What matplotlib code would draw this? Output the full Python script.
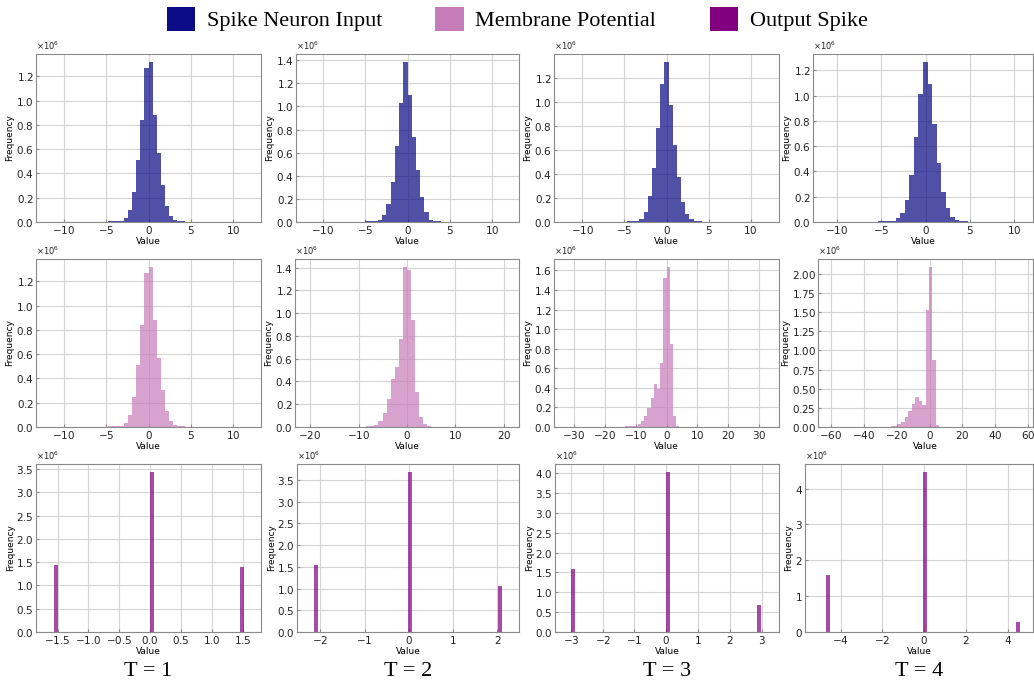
import numpy as np
import matplotlib
matplotlib.use("Agg")
import matplotlib.pyplot as plt
from matplotlib.patches import Patch
from matplotlib.ticker import MaxNLocator

plt.rcParams['axes.formatter.use_mathtext'] = True

# ---- data (frequencies in units of 10^6) ----
steps = ["T = 1", "T = 2", "T = 3", "T = 4"]
series_names = ["Spike Neuron Input", "Membrane Potential", "Output Spike"]

# input histograms: evenly spaced bins over (lo, hi)
input_ranges = [(-12.1, 12.1), (-12.0, 12.0), (-12.15, 12.15), (-11.57, 10.97)]
input_counts = [
    [0.004, 0.003, 0.003, 0.003, 0.003, 0.002, 0.002, 0.002, 0.002, 0.003,
     0.003, 0.003, 0.003, 0.004, 0.004, 0.005, 0.006, 0.008, 0.011, 0.035,
     0.098, 0.248, 0.513, 0.843, 1.265, 1.317, 0.884, 0.567, 0.303, 0.131,
     0.049, 0.015, 0.008, 0.005, 0.004, 0.003, 0.003, 0.002, 0.002, 0.002,
     0.002, 0.002, 0.002, 0.002, 0.002, 0.002, 0.003, 0.004, 0.004, 0.003],
    [0.003, 0.003, 0.002, 0.002, 0.002, 0.002, 0.002, 0.002, 0.002, 0.002,
     0.003, 0.003, 0.003, 0.004, 0.005, 0.006, 0.007, 0.015, 0.06, 0.155,
     0.35, 0.66, 1.03, 1.385, 1.10, 0.74, 0.45, 0.22, 0.083, 0.017,
     0.006, 0.005, 0.004, 0.003, 0.003, 0.002, 0.002, 0.002, 0.002, 0.002,
     0.002, 0.002, 0.002, 0.002, 0.002, 0.003, 0.004, 0.003],
    [0.003, 0.002, 0.002, 0.002, 0.002, 0.002, 0.002, 0.002, 0.002, 0.002,
     0.003, 0.003, 0.003, 0.004, 0.004, 0.005, 0.006, 0.01, 0.028, 0.083,
     0.22, 0.45, 0.78, 1.15, 1.33, 0.97, 0.64, 0.37, 0.165, 0.066,
     0.022, 0.007, 0.005, 0.004, 0.003, 0.003, 0.002, 0.002, 0.002, 0.002,
     0.002, 0.002, 0.002, 0.002, 0.002, 0.002, 0.003, 0.004, 0.003],
    [0.002, 0.002, 0.002, 0.002, 0.003, 0.003, 0.003, 0.003, 0.003, 0.003,
     0.003, 0.003, 0.004, 0.005, 0.006, 0.01, 0.032, 0.074, 0.176, 0.373,
     0.675, 1.01, 1.266, 1.09, 0.775, 0.467, 0.239, 0.108, 0.039, 0.012,
     0.005, 0.004, 0.003, 0.003, 0.002, 0.002, 0.002, 0.002, 0.002, 0.002,
     0.002, 0.002, 0.002, 0.002],
]

membrane_ranges = [(-12.1, 12.1), (-21.0, 21.0), (-33.0, 33.0), (-62.0, 57.0)]
membrane_counts = [
    [0.004, 0.003, 0.003, 0.003, 0.003, 0.002, 0.002, 0.002, 0.002, 0.003,
     0.003, 0.003, 0.003, 0.004, 0.004, 0.005, 0.006, 0.008, 0.011, 0.035,
     0.098, 0.248, 0.513, 0.843, 1.265, 1.317, 0.884, 0.567, 0.303, 0.131,
     0.049, 0.015, 0.008, 0.005, 0.004, 0.003, 0.003, 0.002, 0.002, 0.002,
     0.002, 0.002, 0.002, 0.002, 0.002, 0.002, 0.003, 0.004, 0.004, 0.003],
    [0.003, 0.003, 0.003, 0.003, 0.003, 0.002, 0.002, 0.002, 0.002, 0.002,
     0.002, 0.002, 0.002, 0.003, 0.003, 0.005, 0.008, 0.02, 0.05, 0.12,
     0.244, 0.42, 0.53, 0.77, 1.405, 1.377, 0.94, 0.31, 0.087, 0.026,
     0.008, 0.004, 0.003, 0.002, 0.002, 0.002, 0.003, 0.003, 0.002, 0.002,
     0.002, 0.001, 0.001, 0.001, 0.001, 0.001, 0.001, 0.001, 0.001, 0.001],
    [0.001, 0.001, 0.001, 0.001, 0.001, 0.001, 0.001, 0.004, 0.005, 0.005,
     0.005, 0.004, 0.002, 0.002, 0.002, 0.002, 0.003, 0.004, 0.005, 0.006,
     0.007, 0.008, 0.015, 0.035, 0.06, 0.11, 0.19, 0.30, 0.44, 0.39,
     0.65, 1.52, 1.635, 0.85, 0.11, 0.015, 0.004, 0.003, 0.002, 0.002,
     0.002, 0.003, 0.003, 0.002, 0.001, 0.001, 0.001, 0.001, 0.001, 0.001,
     0.001, 0.001, 0.001, 0.001, 0.001, 0.001, 0.001, 0.001, 0.001, 0.001,
     0.001, 0.001, 0.001, 0.001],
    [0.001, 0.001, 0.001, 0.001, 0.001, 0.001, 0.001, 0.001, 0.003, 0.003,
     0.002, 0.001, 0.001, 0.002, 0.003, 0.004, 0.004, 0.005, 0.008, 0.015,
     0.035, 0.07, 0.13, 0.21, 0.30, 0.39, 0.34, 0.29, 1.53, 2.09,
     0.87, 0.02, 0.005, 0.002, 0.001, 0.001, 0.001, 0.001, 0.001, 0.001,
     0.001, 0.001, 0.001, 0.001, 0.001, 0.001, 0.001, 0.001, 0.001, 0.001,
     0.001, 0.001, 0.001, 0.001, 0.001, 0.001],
]

# output spikes: three discrete levels per time step
spike_values = [[-1.52, 0.03, 1.49], [-2.09, 0.03, 2.05],
                [-2.92, 0.06, 2.91], [-4.62, 0.02, 4.50]]
spike_counts = [[1.44, 3.44, 1.40], [1.55, 3.68, 1.05],
                [1.58, 4.03, 0.69], [1.60, 4.46, 0.27]]
spike_xlims = [(-1.85, 1.80), (-2.53, 2.49), (-3.50, 3.55), (-5.70, 5.20)]
spike_widths = [0.065, 0.09, 0.127, 0.19]

# ---- styles ----
c_input = '#0c0c86'
c_membrane = '#c77cba'
c_spike = '#800080'
serif = 'Liberation Serif'
nice_steps = [1, 2, 2.5, 5, 10]

W, H = 1034, 687
fig = plt.figure(figsize=(W / 100, H / 100), dpi=100)

# axes boxes in pixels: lefts per row, common rights, tops, bottoms
lefts = [[36, 296, 554, 813], [36, 295, 554, 818], [36, 297, 555, 805]]
rights = [261, 519, 779, 1033]
tops = [54, 259, 464]
bottoms = [222, 427, 632]


def make_axes(row, col):
    l, r = lefts[row][col], rights[col]
    t, b = tops[row], bottoms[row]
    ax = fig.add_axes([l / W, 1 - b / H, (r - l) / W, (b - t) / H])
    ax.set_axisbelow(True)
    ax.grid(True, color='#d4d4d4', lw=0.8)
    for s in ax.spines.values():
        s.set_color('#8a8a8a')
        s.set_linewidth(0.8)
    ax.tick_params(direction='in', length=2, labelsize=7.5, pad=1.5,
                   colors='#222222', color='#8a8a8a')
    ax.xaxis.set_major_locator(MaxNLocator(nbins=8, steps=nice_steps))
    ax.yaxis.set_major_locator(MaxNLocator(nbins=9, steps=nice_steps))
    ax.set_xlabel('Value', fontsize=6.5, labelpad=1)
    ax.set_ylabel('Frequency', fontsize=6.5, labelpad=1)
    ax.ticklabel_format(axis='y', style='sci', scilimits=(6, 6))
    ax.yaxis.get_offset_text().set_fontsize(6)
    return ax


for col in range(4):
    # row 1: spike neuron input
    ax = make_axes(0, col)
    lo, hi = input_ranges[col]
    counts = np.array(input_counts[col]) * 1e6
    edges = np.linspace(lo, hi, len(counts) + 1)
    ax.hist(edges[:-1], bins=edges, weights=counts, color=c_input, alpha=0.72)

    # row 2: membrane potential
    ax = make_axes(1, col)
    lo, hi = membrane_ranges[col]
    counts = np.array(membrane_counts[col]) * 1e6
    edges = np.linspace(lo, hi, len(counts) + 1)
    ax.hist(edges[:-1], bins=edges, weights=counts, color=c_membrane, alpha=0.7)

    # row 3: output spike
    ax = make_axes(2, col)
    ax.bar(spike_values[col], np.array(spike_counts[col]) * 1e6,
           width=spike_widths[col], color=c_spike, alpha=0.7)
    ax.set_xlim(*spike_xlims[col])

    cx = (lefts[2][col] + rights[col]) / 2 / W
    fig.text(cx, 1 - 672 / H, steps[col], ha='center', va='center',
             fontsize=16, family=serif)

handles = [Patch(facecolor=c, edgecolor='none') for c in (c_input, c_membrane, c_spike)]
fig.legend(handles, series_names, loc='center', bbox_to_anchor=(0.5, 1 - 19 / H),
           ncol=3, frameon=False, prop={'family': serif, 'size': 16},
           handlelength=1.3, handleheight=1.26, handletextpad=0.5,
           columnspacing=2.4)

fig.savefig('out.png', dpi=100)
